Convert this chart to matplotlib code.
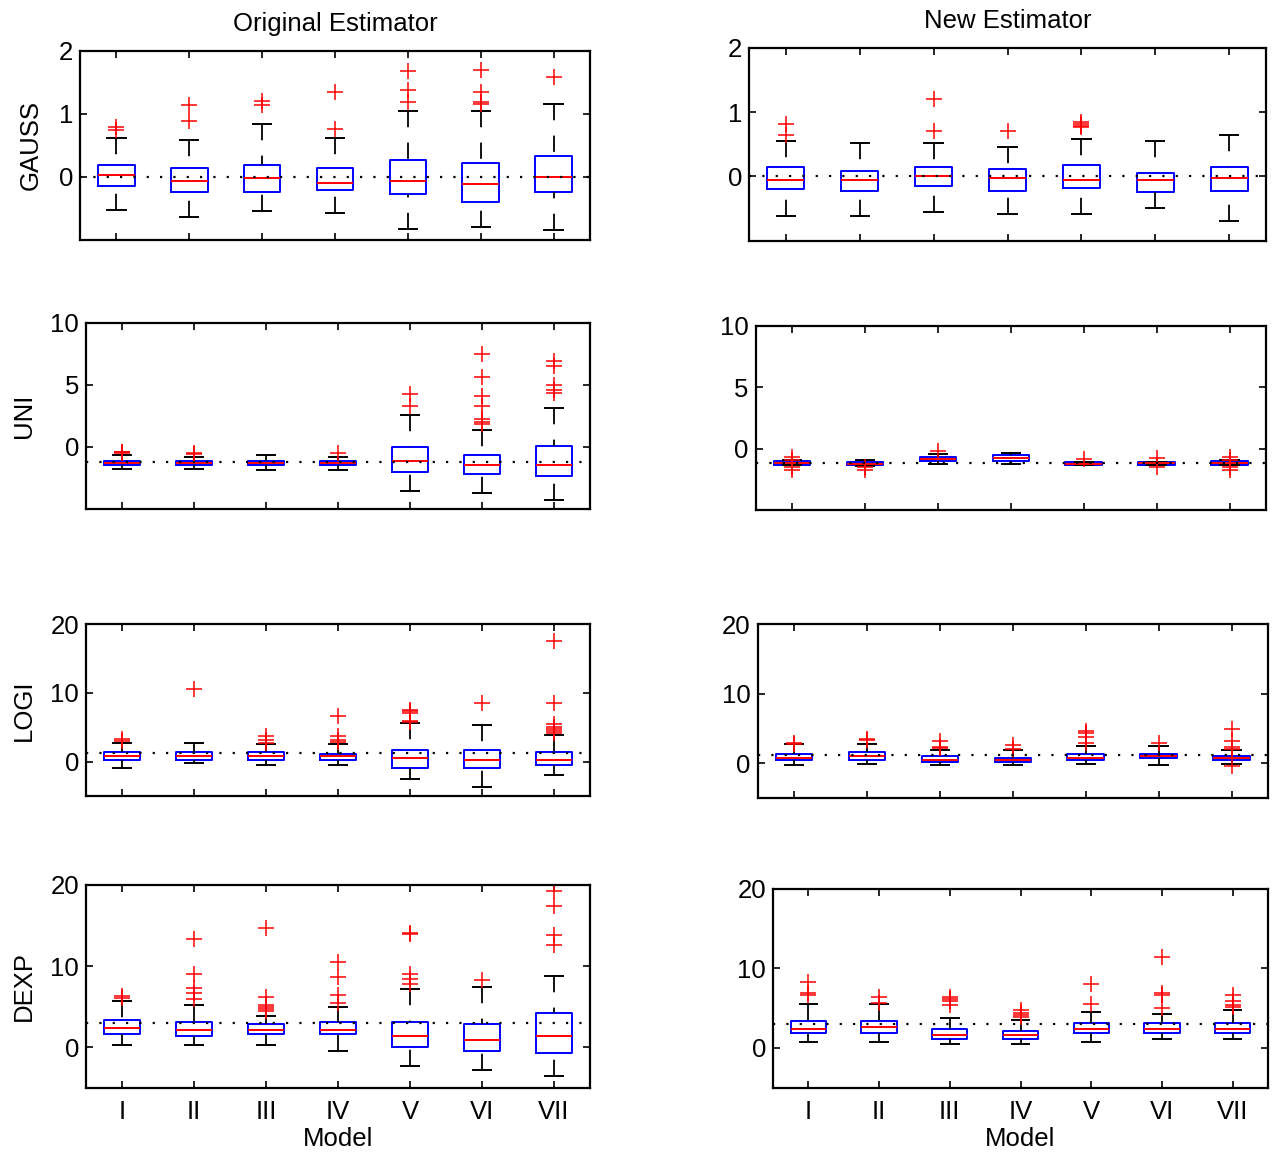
import matplotlib
matplotlib.use("Agg")
import matplotlib.pyplot as plt

plt.rcParams["font.family"] = ["Liberation Sans", "DejaVu Sans"]

# ---------------------------------------------------------------------------
# Data: kurtosis estimates for seven models under four error distributions.
# Each row = [lower whisker, Q1, median, Q3, upper whisker] for one model.
# ---------------------------------------------------------------------------
models = ["I", "II", "III", "IV", "V", "VI", "VII"]
distributions = ["GAUSS", "UNI", "LOGI", "DEXP"]
true_kurtosis = [0.0, -1.2, 1.2, 3.0]
y_limits = [(-1, 2), (-5, 10), (-5, 20), (-5, 20)]
y_ticks = [[0, 1, 2], [0, 5, 10], [0, 10, 20], [0, 10, 20]]
column_titles = ["Original Estimator", "New Estimator"]

gauss_orig = [
    [-0.53, -0.15, 0.03, 0.18, 0.61],
    [-0.65, -0.25, -0.07, 0.13, 0.58],
    [-0.55, -0.25, -0.03, 0.18, 0.83],
    [-0.58, -0.22, -0.10, 0.13, 0.61],
    [-0.83, -0.28, -0.07, 0.27, 1.04],
    [-0.80, -0.40, -0.12, 0.21, 1.04],
    [-0.85, -0.25, 0.00, 0.33, 1.16],
]
gauss_orig_out = [
    [0.78, 0.74], [1.13, 0.89], [1.20, 1.14], [1.34, 0.76],
    [1.67, 1.37, 1.19], [1.70, 1.35, 1.19, 1.16], [1.58],
]
gauss_new = [
    [-0.62, -0.19, -0.06, 0.15, 0.55],
    [-0.62, -0.22, -0.06, 0.08, 0.52],
    [-0.55, -0.15, 0.00, 0.15, 0.52],
    [-0.58, -0.22, -0.03, 0.12, 0.46],
    [-0.58, -0.18, -0.06, 0.18, 0.58],
    [-0.49, -0.25, -0.06, 0.06, 0.55],
    [-0.70, -0.22, -0.03, 0.15, 0.64],
]
gauss_new_out = [
    [0.82, 0.64], [], [1.21, 0.70], [0.70],
    [0.85, 0.82, 0.79, 0.77], [], [],
]

uni_orig = [
    [-1.74, -1.45, -1.29, -1.10, -0.65],
    [-1.74, -1.45, -1.29, -1.10, -0.82],
    [-1.87, -1.45, -1.29, -1.10, -0.63],
    [-1.87, -1.45, -1.29, -1.10, -0.82],
    [-3.55, -2.03, -1.10, -0.03, 2.55],
    [-3.71, -2.18, -1.42, -0.63, 1.34],
    [-4.29, -2.32, -1.42, 0.10, 3.16],
]
uni_orig_out = [
    [-0.50, -0.45, -0.40], [-0.50, -0.60], [], [-0.50],
    [4.24, 3.32], [7.45, 5.63, 4.08, 3.29, 2.26, 2.03, 1.87],
    [6.92, 6.50, 4.95, 4.60, 4.34],
]
uni_new = [
    [-1.35, -1.30, -1.16, -1.00, -0.95],
    [-1.45, -1.35, -1.22, -1.08, -0.95],
    [-1.27, -1.00, -0.86, -0.70, -0.46],
    [-1.27, -1.00, -0.76, -0.54, -0.32],
    [-1.35, -1.32, -1.22, -1.08, -1.05],
    [-1.35, -1.30, -1.20, -1.08, -1.05],
    [-1.35, -1.30, -1.16, -1.00, -0.95],
]
uni_new_out = [
    [-0.70, -0.90, -1.50, -1.70], [-1.50, -1.70], [-0.19], [],
    [-0.81], [-0.75, -1.50], [-0.70, -0.90, -1.50, -1.70],
]

logi_orig = [
    [-0.87, 0.29, 0.82, 1.39, 2.74],
    [-0.24, 0.29, 0.82, 1.39, 2.74],
    [-0.53, 0.29, 0.82, 1.39, 2.50],
    [-0.53, 0.24, 0.82, 1.10, 2.50],
    [-2.55, -0.87, 0.53, 1.63, 5.58],
    [-3.65, -0.87, 0.29, 1.63, 5.29],
    [-1.97, -0.53, 0.29, 1.35, 3.89],
]
logi_orig_out = [
    [3.30, 2.93], [10.50], [3.70, 3.20, 2.70], [6.68, 3.70, 3.08, 2.84],
    [7.50, 7.30, 7.10, 5.90, 5.75], [8.56],
    [17.50, 8.56, 5.50, 5.00, 4.70, 4.40, 4.10],
]
logi_new = [
    [-0.28, 0.47, 0.75, 1.31, 2.72],
    [-0.05, 0.47, 1.03, 1.60, 2.72],
    [-0.28, 0.19, 0.47, 1.03, 1.88],
    [-0.28, 0.19, 0.47, 0.75, 1.88],
    [-0.05, 0.47, 0.75, 1.31, 2.44],
    [-0.28, 0.75, 1.03, 1.31, 2.44],
    [-0.05, 0.47, 0.75, 1.03, 1.88],
]
logi_new_out = [
    [2.96, 2.80], [3.52, 3.29], [3.24, 2.39, 2.16], [2.68, 2.07],
    [4.65, 4.27, 3.80, 2.96], [2.96], [4.88, 3.24, 2.39, 2.10, -0.45],
]

dexp_orig = [
    [0.25, 1.64, 2.38, 3.32, 5.70],
    [0.25, 1.43, 2.13, 3.11, 5.20],
    [0.25, 1.68, 2.13, 2.91, 3.81],
    [-0.45, 1.64, 2.13, 3.11, 5.00],
    [-2.38, 0.00, 1.43, 3.11, 7.13],
    [-2.87, -0.45, 0.94, 2.91, 7.38],
    [-3.57, -0.70, 1.43, 4.26, 8.77],
]
dexp_orig_out = [
    [6.31, 6.02], [13.30, 9.00, 7.34, 6.68, 5.98],
    [14.70, 6.19, 5.20, 4.96, 4.71, 4.47], [10.45, 8.60, 6.43, 5.41],
    [14.10, 13.97, 8.98, 8.36, 7.75], [8.24], [19.26, 17.38, 13.80, 12.60],
]
dexp_new = [
    [0.70, 1.85, 2.35, 3.33, 5.47],
    [0.70, 1.85, 2.59, 3.33, 5.47],
    [0.45, 1.11, 1.60, 2.35, 3.79],
    [0.45, 1.11, 1.60, 2.10, 3.54],
    [0.70, 1.85, 2.35, 3.09, 4.53],
    [1.11, 1.85, 2.35, 3.09, 4.28],
    [1.11, 1.85, 2.35, 3.09, 4.73],
]
dexp_new_out = [
    [8.31, 6.87, 6.70], [6.42, 5.68], [6.42, 6.10, 5.93, 5.43],
    [4.73, 4.40, 4.10, 3.87], [8.07, 5.47], [11.40, 6.87, 6.70, 4.98],
    [6.67, 5.93, 5.43, 5.19],
]

summaries = [
    [gauss_orig, gauss_new],
    [uni_orig, uni_new],
    [logi_orig, logi_new],
    [dexp_orig, dexp_new],
]
outliers = [
    [gauss_orig_out, gauss_new_out],
    [uni_orig_out, uni_new_out],
    [logi_orig_out, logi_new_out],
    [dexp_orig_out, dexp_new_out],
]

# Axes frames in pixels: (left, top, right, bottom)
W, H = 1274, 1152
frames = [
    [(80, 50.7, 590, 239.5), (749, 47.7, 1266, 240.7)],
    [(86, 322.7, 590, 509), (755.5, 326, 1266, 510)],
    [(86, 624, 590, 796), (757.5, 624, 1268, 798)],
    [(86, 885, 590, 1087.7), (773, 889, 1268, 1087.7)],
]
ylabel_x = [31, 24, 24, 24]

FS = 18.5
fig = plt.figure(figsize=(W / 100, H / 100), dpi=100)

positions = list(range(1, len(models) + 1))

for r in range(4):
    for c in range(2):
        l, t, rr, b = frames[r][c]
        ax = fig.add_axes([l / W, 1 - b / H, (rr - l) / W, (b - t) / H])

        stats = []
        for row, fl in zip(summaries[r][c], outliers[r][c]):
            lo, q1, med, q3, hi = row
            stats.append(dict(whislo=lo, q1=q1, med=med, q3=q3,
                              whishi=hi, fliers=fl))

        parts = ax.bxp(stats, positions=positions, widths=0.5, showfliers=True,
                       boxprops=dict(color="#0000ff", linewidth=1.4),
                       medianprops=dict(color="#ff0000", linewidth=1.4),
                       whiskerprops=dict(color="black", linewidth=1.3,
                                         linestyle=(0, (9, 8.5))),
                       capprops=dict(color="black", linewidth=1.4),
                       flierprops=dict(marker="+", markeredgecolor="#ff0000",
                                       markersize=11, markeredgewidth=1.1,
                                       linestyle="none"))
        # dash pattern starts at the cap end of each whisker
        for w in parts["whiskers"]:
            w.set_xdata(list(w.get_xdata())[::-1])
            w.set_ydata(list(w.get_ydata())[::-1])

        ax.axhline(true_kurtosis[r], color="black", linewidth=1.6,
                   linestyle=(0, (1, 5)), dash_capstyle="butt", zorder=5)

        ax.set_xlim(0.5, len(models) + 0.5)
        ax.set_ylim(*y_limits[r])
        ax.set_yticks(y_ticks[r])
        ax.set_xticks(positions)
        if r == 3:
            ax.set_xticklabels(models, fontsize=FS)
            ax.set_xlabel("Model", fontsize=FS, labelpad=2)
        else:
            ax.set_xticklabels([])

        ax.tick_params(axis="both", which="both", direction="in",
                       top=True, right=True, length=5, width=1.2,
                       labelsize=FS)
        ax.tick_params(axis="y", pad=5)
        ax.tick_params(axis="x", pad=9)
        for sp in ax.spines.values():
            sp.set_linewidth(1.6)

        if r == 0:
            ax.set_title(column_titles[c], fontsize=FS, pad=14)
        if c == 0:
            fig.text(ylabel_x[r] / W, 1 - ((t + b) / 2) / H, distributions[r],
                     rotation=90, ha="center", va="center", fontsize=FS)

fig.savefig("out.png", dpi=100, facecolor="white")
